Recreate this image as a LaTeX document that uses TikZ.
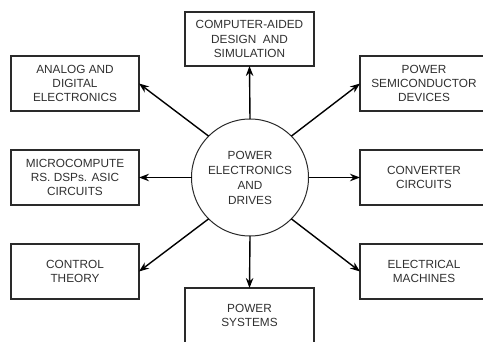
\documentclass[tikz,border=0pt]{standalone}
\usepackage{fontspec}
\setmainfont{Liberation Sans}
\usetikzlibrary{arrows.meta}
\definecolor{txt}{HTML}{303030}
\definecolor{edge}{HTML}{2A2A2A}
\begin{document}
\begin{tikzpicture}[x=1pt,y=-1pt,
  box/.style={draw=edge,line width=1.1pt,rectangle,minimum width=128pt,minimum height=55pt,
    inner sep=0pt,outer sep=0pt,align=center,text=txt,
    font=\fontsize{11.8}{14.4}\selectfont},
  hub/.style={draw=edge,line width=1pt,circle,minimum size=117pt,inner sep=0pt,outer sep=0pt,
    align=center,text=txt,font=\fontsize{11.8}{15}\selectfont},
  conn/.style={draw=black,line width=1.4pt,-{Stealth[length=10pt,width=7.5pt]}}]
\useasboundingbox (0,0) rectangle (483,342);
\node[hub] (c) at (250,177.5) {POWER\\ELECTRONICS\\AND\\DRIVES};
\node[box,minimum width=129pt,minimum height=54pt] (cad) at (249.5,39) {COMPUTER-AIDED\\DESIGN\ \ AND\\SIMULATION};
\node[box] (ana) at (75,83.5) {ANALOG AND\\DIGITAL\\ELECTRONICS};
\node[box] (mic) at (75,177.5) {MICROCOMPUTE\\RS. DSPs. ASIC\\CIRCUITS};
\node[box] (ctl) at (75,271.5) {CONTROL\\THEORY};
\node[box] (psd) at (424,83.5) {POWER\\SEMICONDUCTOR\\DEVICES};
\node[box] (cnv) at (424,177.5) {CONVERTER\\CIRCUITS};
\node[box] (elm) at (424,271.5) {ELECTRICAL\\MACHINES};
\node[box,minimum width=129pt] (pws) at (249.5,315.5) {POWER\\SYSTEMS};
\draw[conn] (c.90) -- (cad.south);
\draw[conn] (c.270) -- (pws.north);
\draw[conn] (c.180) -- (mic.east);
\draw[conn] (c.0) -- (cnv.west);
\draw[conn] (c.135) -- (ana.east);
\draw[conn] (c.45) -- (psd.west);
\draw[conn] (c.225) -- (ctl.east);
\draw[conn] (c.315) -- (elm.west);
\end{tikzpicture}
\end{document}
